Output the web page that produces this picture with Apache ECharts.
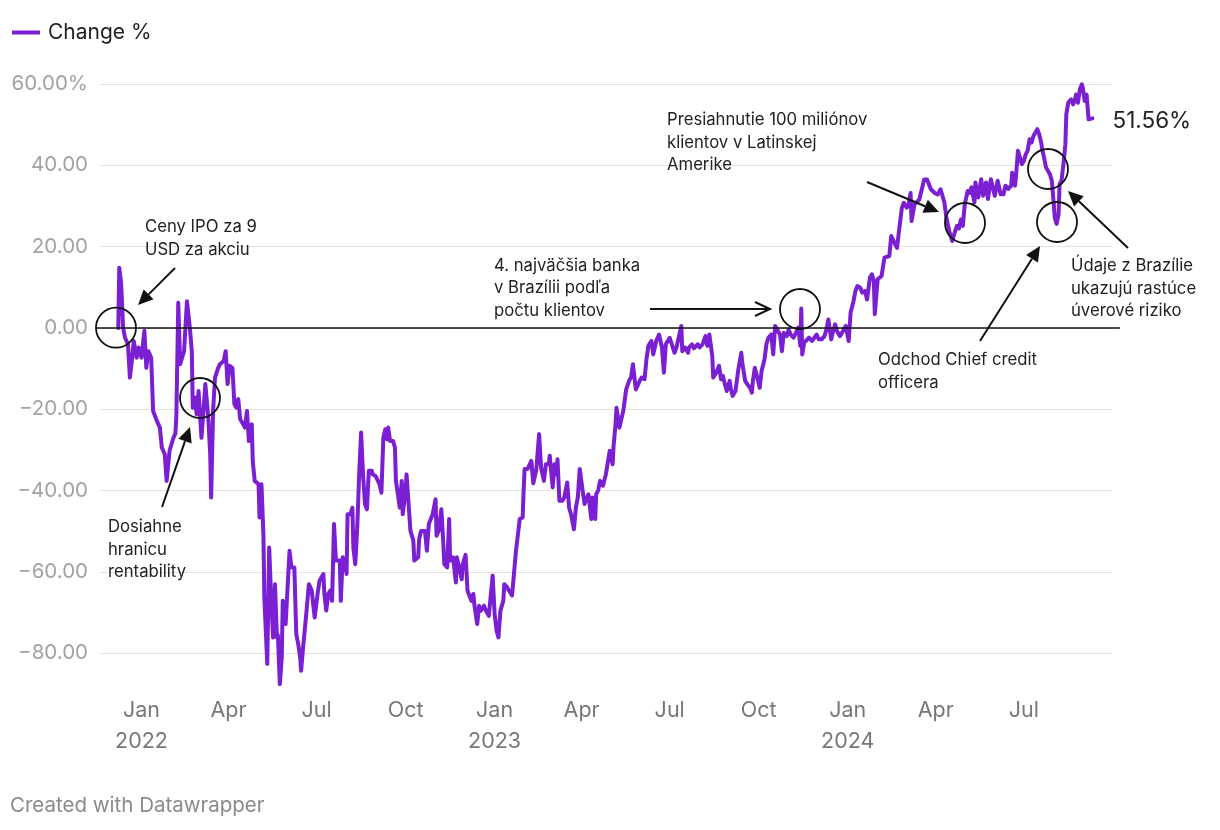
<!DOCTYPE html>
<html>
<head>
<meta charset="utf-8">
<script src="https://cdn.jsdelivr.net/npm/echarts@6/dist/echarts.min.js"></script>
<style>
  html, body { margin: 0; padding: 0; background: #fff; }
  #chart { width: 1220px; height: 830px; }
</style>
</head>
<body>
<div id="chart"></div>
<script>
// ---- DATA ----
// day offsets from 2022-01-01 (trading days sampled from the chart)
const days = [
-24,-23,-21,-19,-17,-14,-12,-10,-8,-5,-3,0,3,5,7,10,12,16,19,21,24,26,29,33,35,36,38,40,42,44,47,50,52,53,55,57,59,60,62,66,69,71,72,74,76,79,81,83,85,87,89,91,94,96,98,100,102,104,107,109,111,114,115,117,121,122,124,126,127,130,132,134,136,138,140,141,143,145,146,148,149,151,153,155,158,160,162,164,165,167,170,173,176,179,182,184,188,189,191,193,195,197,199,201,205,206,208,210,212,213,216,218,219,221,223,225,227,229,231,233,235,238,239,242,244,246,248,250,252,254,255,257,260,262,263,265,267,269,270,273,274,276,278,281,282,286,287,289,293,295,297,299,301,304,305,307,310,312,313,316,318,319,322,325,326,328,331,332,335,337,339,341,343,344,347,349,351,354,356,359,363,365,367,369,371,374,375,378,380,383,385,387,391,394,395,396,399,403,405,408,411,413,416,418,421,422,425,427,429,430,432,435,437,440,442,444,447,449,451,453,454,456,458,460,462,465,466,469,470,472,474,477,479,480,482,484,487,488,490,491,494,496,498,501,504,506,508,511,513,515,517,520,522,524,527,529,532,535,538,540,542,546,548,551,553,555,558,559,562,565,566,569,571,575,577,580,583,585,587,590,591,594,597,599,601,603,605,608,609,611,614,617,620,621,624,626,629,631,632,634,637,639,641,644,646,648,651,653,655,657,660,662,664,667,669,671,674,676,679,681,682,683,685,687,690,693,695,698,700,703,706,708,710,713,714,717,719,722,725,728,731,733,736,738,740,743,745,748,750,753,755,757,758,761,763,765,768,770,773,775,777,779,781,783,786,788,791,793,795,796,799,801,804,807,809,812,814,816,820,823,826,830,832,835,838,841,843,845,847,849,851,854,856,858,861,862,865,868,870,873,875,878,880,882,885,886,888,891,893,896,899,900,903,904,906,908,910,912,914,916,918,920,922,924,926,928,930,931,933,935,937,939,941,943,944,946,948,949,951,953,955,956,958,961,963,965,966,968,970,972,973,975,977,979,981,983
];
// change vs. IPO price (%)
const changePct = [
0,14.8,10.8,0,-2.4,-4.0,-12.2,-8.1,-3.2,-7.3,-4.8,-7.3,-0.7,-9.8,-5.7,-7.3,-20.4,-22.9,-24.5,-29.4,-31.0,-37.6,-30.2,-27.0,-26.0,-22.0,6.2,-8.9,-8.9,-5.7,6.6,0,-5.7,-19.6,-17.1,-21.2,-15.5,-19.6,-27.0,-13.8,-22.0,-31.0,-41.7,-20.4,-12.2,-10.0,-8.9,-9.3,-8.1,-5.7,-13.8,-9.3,-9.8,-18.7,-19.6,-17.5,-22.4,-22.8,-24.5,-20.4,-27.8,-23.7,-32.7,-37.6,-38.4,-46.6,-38.4,-50.7,-66.3,-82.6,-54.0,-66.3,-76.1,-63.0,-76.1,-75.5,-87.6,-81.0,-67.1,-67.9,-72.8,-72.8,-54.8,-58.9,-58.9,-75.3,-77.7,-81.0,-84.3,-78.6,-71.2,-63.0,-64.6,-71.2,-65.4,-62.2,-60.5,-65.4,-69.5,-65.4,-64.6,-67.1,-48.2,-57.2,-57.2,-67.1,-56.4,-57.2,-60.5,-45.8,-45.8,-44.2,-54.0,-58.1,-49.1,-36.0,-25.7,-36.0,-43.3,-44.6,-35.1,-35.1,-36.0,-36.4,-36.8,-38.4,-40.5,-27.0,-24.9,-27.4,-24.5,-27.8,-27.8,-29.4,-37.6,-40.9,-44.2,-37.6,-45.8,-40.0,-36.0,-35.6,-49.9,-52.3,-57.2,-56.4,-51.9,-49.9,-49.9,-54.8,-48.2,-48.6,-45.8,-42.1,-51.1,-50.0,-44.6,-53.1,-58.1,-58.9,-47.0,-57.2,-56.4,-62.6,-56.4,-56.4,-61.8,-58.1,-55.8,-64.6,-65.0,-67.1,-65.4,-67.9,-72.8,-68.3,-69.5,-68.3,-69.5,-70.8,-60.9,-70.3,-74.4,-76.1,-69.5,-67.1,-63.0,-63.8,-64.2,-65.8,-60.5,-55.0,-47.0,-46.6,-40.0,-34.7,-34.7,-32.7,-38.2,-35.0,-26.1,-34.3,-37.6,-33.5,-33.5,-31.4,-39.2,-33.5,-36.0,-32.3,-42.5,-42.5,-41.7,-38.0,-44.2,-45.8,-49.5,-44.2,-41.7,-34.7,-36.4,-40.0,-43.3,-43.7,-40.9,-47.0,-41.7,-47.0,-40.9,-40.0,-37.6,-38.8,-38.4,-36.0,-33.1,-30.2,-33.5,-29.0,-23.7,-19.6,-24.5,-22.4,-20.4,-15.1,-13.0,-12.2,-8.9,-15.1,-15.1,-13.0,-12.2,-12.6,-7.7,-4.4,-3.2,-6.5,-3.2,-1.6,-4.8,-11.0,-4.0,-2.4,-2.8,-6.1,-4.8,-4.8,0.5,-5.7,-4.8,-6.1,-4.8,-4.0,-5.0,-4.0,-4.8,-4.0,-2.0,-4.4,-1.6,-6.9,-12.2,-11.0,-9.3,-12.6,-11.8,-13.8,-15.5,-13.0,-14.7,-16.7,-15.5,-10.1,-6.1,-8.5,-13.0,-13.8,-14.7,-15.9,-13.0,-9.8,-12.6,-14.7,-10.6,-7.7,-4.0,-2.4,-1.6,-6.5,0.5,0.1,-1.6,-5.7,-1.2,-2.0,-0.4,-1.6,-2.4,-2.8,0.1,-4.4,4.8,-6.5,-3.6,-3.6,-2.4,-3.2,-2.8,-1.6,-2.8,-2.8,-2.0,-0.4,2.1,-2.8,-1.6,0.9,-0.8,-2.0,-0.8,0.5,-3.2,3.8,6.6,9.1,10.3,9.9,8.7,9.1,7.0,12.4,13.2,11.6,3.4,12.0,12.0,12.8,17.3,17.7,17.7,22.6,23.0,20.6,19.7,23.8,29.6,30.8,29.6,30.4,33.2,26.3,30.4,30.8,31.6,34.5,36.5,36.5,36.1,34.1,33.2,32.8,34.1,30.8,27.1,23.8,21.4,23.8,25.1,24.5,26.7,25.1,30.4,33.7,33.2,34.6,30.9,35.8,32.1,36.6,32.5,35.8,31.7,36.6,37.0,32.5,36.2,36.6,32.9,32.9,35.0,34.2,35.0,38.2,35.0,37.4,43.6,43.6,40.3,41.1,42.7,43.6,46.4,45.6,47.2,46.8,48.9,47.6,45.6,44.0,41.9,39.5,39.1,37.8,36.2,30.5,27.2,25.6,28.0,35.4,36.2,40.3,45.2,52.6,55.4,56.2,55.0,56.2,57.4,55.4,58.7,59.9,59.1,55.8,57.4,51.3,51.7,51.56
];
// x tick positions (days from 2022-01-01) and their labels
const tickDays = [0, 90, 181, 273, 365, 455, 546, 638, 730, 821, 912];
const tickLabels = ['Jan\n2022','Apr','Jul','Oct','Jan\n2023','Apr','Jul','Oct','Jan\n2024','Apr','Jul'];
const seriesName = 'Change %';
const lastLabel = '51.56%';
const notes = [
  { lines: ['Ceny IPO za 9', 'USD za akciu'] },
  { lines: ['Dosiahne', 'hranicu', 'rentability'] },
  { lines: ['4. najväčšia banka', 'v Brazílii podľa', 'počtu klientov'] },
  { lines: ['Presiahnutie 100 miliónov', 'klientov v Latinskej', 'Amerike'] },
  { lines: ['Odchod Chief credit', 'officera'] },
  { lines: ['Údaje z Brazílie', 'ukazujú rastúce', 'úverové riziko'] }
];

const PURPLE = '#7a1fd2';
const FONT = 'Inter, Roboto, "Noto Sans", sans-serif';

const chart = echarts.init(document.getElementById('chart'), null, { renderer: 'canvas' });
const data = days.map((d, i) => [d, changePct[i]]);

chart.setOption({
  animation: false,
  textStyle: { fontFamily: FONT },
  legend: {
    left: 7, top: 17,
    icon: 'rect', itemWidth: 28, itemHeight: 4,
    textStyle: { fontSize: 21, color: '#222', fontFamily: FONT, padding: [0, 0, 0, 3] },
    data: [{ name: seriesName, itemStyle: { color: PURPLE } }]
  },
  grid: { left: 100, right: 108, top: 84, bottom: 176.7, containLabel: false },
  xAxis: {
    type: 'value', min: -42.9, max: 1003.2,
    axisLine: { show: false }, axisTick: { show: false }, splitLine: { show: false },
    axisLabel: {
      customValues: tickDays,
      margin: 42, fontSize: 21.5, lineHeight: 31, color: '#777', fontFamily: FONT,
      verticalAlign: 'top',
      formatter: function (v) { const i = tickDays.indexOf(v); return i >= 0 ? tickLabels[i] : ''; }
    }
  },
  yAxis: {
    type: 'value', min: -80, max: 60, interval: 20,
    axisLine: { show: false }, axisTick: { show: false },
    splitLine: { lineStyle: { color: '#e3e3e3', width: 1 } },
    axisLabel: {
      margin: 12, fontSize: 20.5, color: '#a3a3a3', fontFamily: FONT,
      formatter: function (v) {
        if (v === 60) return '60.00%';
        return (v < 0 ? '\u2212' : '') + Math.abs(v).toFixed(2);
      }
    }
  },
  series: [{
    name: seriesName, type: 'line', data: data,
    showSymbol: false, clip: false, z: 3,
    lineStyle: { color: PURPLE, width: 4, join: 'round', cap: 'round' },
    itemStyle: { color: PURPLE }
  }]
});

// ---- annotations (layout) ----
function arrow(x1, y1, x2, y2, open) {
  const ang = Math.atan2(y2 - y1, x2 - x1);
  const L = 15, W = 7;
  const bx = x2 - L * Math.cos(ang), by = y2 - L * Math.sin(ang);
  const px = -Math.sin(ang) * W, py = Math.cos(ang) * W;
  const els = [];
  if (open) {
    els.push({ type: 'line', shape: { x1: x1, y1: y1, x2: x2, y2: y2 }, style: { stroke: '#111', lineWidth: 2 }, z: 10 });
    els.push({ type: 'polyline', shape: { points: [[bx + px, by + py], [x2, y2], [bx - px, by - py]] }, style: { stroke: '#111', lineWidth: 2, fill: null }, z: 10 });
  } else {
    els.push({ type: 'line', shape: { x1: x1, y1: y1, x2: bx, y2: by }, style: { stroke: '#111', lineWidth: 2 }, z: 10 });
    els.push({ type: 'polygon', shape: { points: [[bx + px, by + py], [x2, y2], [bx - px, by - py]] }, style: { fill: '#111' }, z: 10 });
  }
  return els;
}
function circle(cx, cy) {
  return { type: 'circle', shape: { cx: cx, cy: cy, r: 20 }, style: { stroke: '#111', lineWidth: 1.8, fill: null }, z: 10 };
}
function note(n, x, y) {
  return n.lines.map((t, i) => ({
    type: 'text', x: x, y: y + i * 22.5, z: 10,
    style: { text: t, fill: '#222', font: '16.7px ' + FONT, textVerticalAlign: 'middle' }
  }));
}

const zeroY = chart.convertToPixel({ yAxisIndex: 0 }, 0);
const lastPt = chart.convertToPixel({ gridIndex: 0 }, data[data.length - 1]);

let g = [];
g.push({ type: 'line', shape: { x1: 96, y1: zeroY, x2: 1120, y2: zeroY }, style: { stroke: '#111', lineWidth: 1.6 }, z: 4 });
g = g.concat(note(notes[0], 145, 227), arrow(175, 268, 138, 305, false), [circle(116, 327.7), circle(200, 398)]);
g = g.concat(note(notes[1], 108, 527), arrow(162, 507, 190, 427, false));
g = g.concat(note(notes[2], 494, 265.5), arrow(650, 309, 770, 309, true), [circle(800, 309)]);
g = g.concat(note(notes[3], 667, 120), arrow(867, 182, 939, 212, false), [circle(965, 223)]);
g = g.concat(note(notes[4], 878, 360), arrow(980, 341, 1040, 246, false), [circle(1057, 222)]);
g = g.concat(note(notes[5], 1071, 266), arrow(1128, 248, 1068, 191, false), [circle(1048, 169)]);
g.push({ type: 'text', x: lastPt[0] + 20, y: lastPt[1] + 3, z: 10,
  style: { text: lastLabel, fill: '#222', font: '22.5px ' + FONT, textVerticalAlign: 'middle' } });
g.push({ type: 'text', x: 10, y: 806, z: 10,
  style: { text: 'Created with Datawrapper', fill: '#8a8a8a', font: '20.5px ' + FONT, textVerticalAlign: 'middle' } });

chart.setOption({ graphic: { elements: g } });
</script>
</body>
</html>
